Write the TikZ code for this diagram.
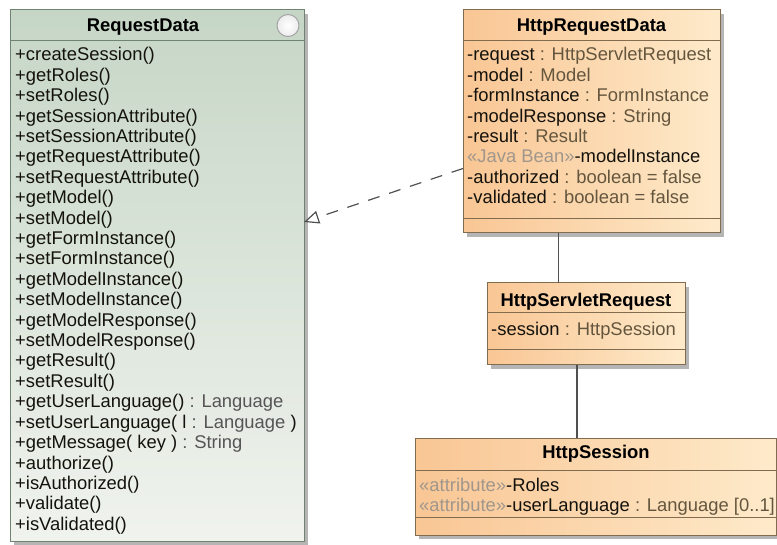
\documentclass[tikz,border=0pt]{standalone}
\usepackage{fontspec}
\setmainfont{Liberation Sans}
\usetikzlibrary{arrows.meta}
\definecolor{gTop}{RGB}{198,214,198}
\definecolor{gBot}{RGB}{240,243,238}
\definecolor{gBorder}{RGB}{112,130,112}
\definecolor{oL}{RGB}{249,198,148}
\definecolor{oR}{RGB}{254,234,202}
\definecolor{oBorder}{RGB}{130,108,80}
\definecolor{nameC}{RGB}{20,18,12}
\definecolor{typeC}{RGB}{100,86,62}
\definecolor{gtypeC}{RGB}{85,85,85}
\definecolor{stC}{RGB}{160,150,140}
\definecolor{lineC}{RGB}{80,80,80}
\definecolor{shadowC}{RGB}{150,150,150}
\newcommand\mytype[1]{\textcolor{typeC}{#1}}
\newcommand\mygtype[1]{\textcolor{gtypeC}{#1}}
\newcommand\mystereo[1]{\textcolor{stC}{#1}}
\tikzset{
  greenbox/.style={draw=gBorder, line width=1pt, top color=gTop, bottom color=gBot, inner sep=0pt, outer sep=0pt, anchor=north west},
  orangebox/.style={draw=oBorder, line width=1pt, left color=oL, right color=oR, inner sep=0pt, outer sep=0pt, anchor=north west},
  gsep/.style={draw=gBorder, line width=1pt},
  osep/.style={draw=oBorder, line width=1pt},
  shadowfill/.style={fill=shadowC, opacity=0.7},
  ctitle/.style={font=\fontsize{18.4}{20}\selectfont\bfseries, text=black, inner sep=0pt, anchor=base},
  mem/.style={font=\fontsize{18.4}{20}\selectfont, text=nameC, inner sep=0pt, anchor=base west},
  assoc/.style={draw=lineC, line width=1.2pt},
  realize/.style={draw=lineC, line width=1.2pt, dash pattern=on 12pt off 10pt, -{Triangle[open, length=15pt, width=13pt, line width=1.2pt]}},
}
\begin{document}
\begin{tikzpicture}[x=1pt,y=-1pt]
\useasboundingbox (0,0) rectangle (777,545);
% shadows
\fill[shadowfill] (14,14) rectangle (308,546);
\fill[shadowfill] (467,14) rectangle (724,237);
\fill[shadowfill] (491,287) rectangle (689,369);
\fill[shadowfill] (419,442) rectangle (780,539);
% RequestData
\node[greenbox, minimum width=294pt, minimum height=531pt] (rd) at (10,10) {};
\draw[gsep] ([yshift=-31pt]rd.north west) -- ([yshift=-31pt]rd.north east);
\node[ctitle] (rdtitle) at (143,31.5) {RequestData};
\node[circle, draw=gray!75, line width=0.9pt, inner color=white, outer color=gray!15, minimum size=22pt, inner sep=0pt] (rdicon) at (288,25.5) {};
\foreach \t [count=\i] in {
  {+createSession()},
  {+getRoles()},
  {+setRoles()},
  {+getSessionAttribute()},
  {+setSessionAttribute()},
  {+getRequestAttribute()},
  {+setRequestAttribute()},
  {+getModel()},
  {+setModel()},
  {+getFormInstance()},
  {+setFormInstance()},
  {+getModelInstance()},
  {+setModelInstance()},
  {+getModelResponse()},
  {+setModelResponse()},
  {+getResult()},
  {+setResult()},
  {+getUserLanguage() \mygtype{: Language}},
  {+setUserLanguage( l \mygtype{: Language} )},
  {+getMessage( key ) \mygtype{: String}},
  {+authorize()},
  {+isAuthorized()},
  {+validate()},
  {+isValidated()}}
  \node[mem] (rdop\i) at (15,{61+20.4*(\i-1)}) {\t};
% HttpRequestData
\node[orangebox, minimum width=257pt, minimum height=223pt] (hrd) at (463,10) {};
\draw[osep] ([yshift=-31pt]hrd.north west) -- ([yshift=-31pt]hrd.north east);
\draw[osep] ([yshift=-209pt]hrd.north west) -- ([yshift=-209pt]hrd.north east);
\node[ctitle] (hrdtitle) at (591.5,31.5) {HttpRequestData};
\foreach \t [count=\i] in {
  {-request \mytype{: HttpServletRequest}},
  {-model \mytype{: Model}},
  {-formInstance \mytype{: FormInstance}},
  {-modelResponse \mytype{: String}},
  {-result \mytype{: Result}},
  {\mystereo{«Java Bean»}-modelInstance},
  {-authorized \mytype{: boolean = false}},
  {-validated \mytype{: boolean = false}}}
  \node[mem] (hrdat\i) at (467,{61+20.4*(\i-1)}) {\t};
% HttpServletRequest
\node[orangebox, minimum width=198pt, minimum height=82pt] (hsr) at (487,283) {};
\draw[osep] ([yshift=-30pt]hsr.north west) -- ([yshift=-30pt]hsr.north east);
\draw[osep] ([yshift=-67pt]hsr.north west) -- ([yshift=-67pt]hsr.north east);
\node[ctitle] (hsrtitle) at (586,306.5) {HttpServletRequest};
\node[mem] (hsrat1) at (491,336) {-session \mytype{: HttpSession}};
% HttpSession
\node[orangebox, minimum width=361pt, minimum height=97pt] (hs) at (415,438) {};
\draw[osep] ([yshift=-32pt]hs.north west) -- ([yshift=-32pt]hs.north east);
\draw[osep] ([yshift=-79pt]hs.north west) -- ([yshift=-79pt]hs.north east);
\node[ctitle] (hstitle) at (596,458.5) {HttpSession};
\node[mem] (hsat1) at (419,491) {\mystereo{«attribute»}-Roles};
\node[mem] (hsat2) at (419,511) {\mystereo{«attribute»}-userLanguage \mytype{: Language [0..1]}};
% connectors
\draw[realize] ([yshift=-47pt]hrd.west) -- ([yshift=53.5pt]rd.east);
\draw[assoc] ([xshift=-33pt]hrd.south) -- ([xshift=-33pt]hrd.south |- hsr.north);
\draw[assoc] ([xshift=-9pt]hsr.south) -- ([xshift=-9pt]hsr.south |- hs.north);
\end{tikzpicture}
\end{document}
